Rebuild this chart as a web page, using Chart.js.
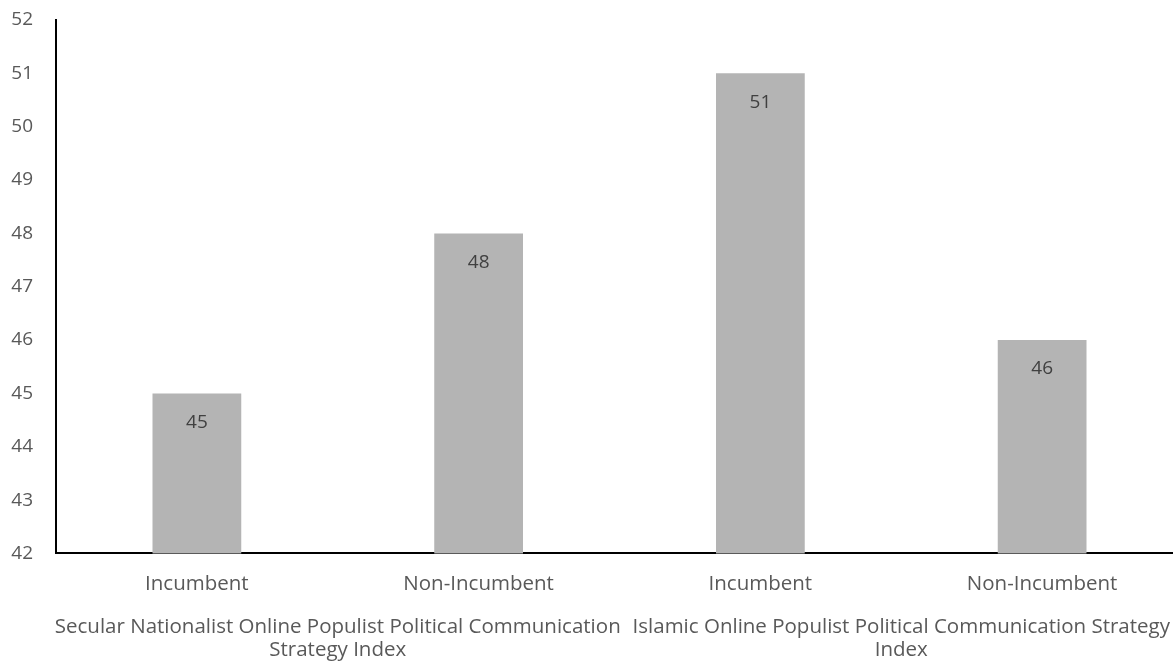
<!DOCTYPE html>
<html>
<head>
<meta charset="utf-8">
<script src="https://cdn.jsdelivr.net/npm/chart.js@4.4.1/dist/chart.umd.min.js"></script>
<style>
  html, body { margin: 0; padding: 0; background: #fff; overflow: hidden; }
  #wrap { width: 1183px; height: 669px; }
</style>
</head>
<body>
<div id="wrap"><canvas id="chart"></canvas></div>
<script>
const categories = ["Incumbent", "Non-Incumbent", "Incumbent", "Non-Incumbent"];
const groups = [
  ["Secular Nationalist Online Populist Political Communication", "Strategy Index"],
  ["Islamic Online Populist Political Communication Strategy", "Index"]
];
const values = [45, 48, 51, 46];
const yTicks = { min: 42, max: 52, step: 1 };

const textColor = "#595959";
const fontFamily = "'Open Sans', sans-serif";

// value labels sit just inside the top of each bar
const barValueLabels = {
  id: "barValueLabels",
  afterDatasetsDraw(chart) {
    const { ctx } = chart;
    const meta = chart.getDatasetMeta(0);
    ctx.save();
    ctx.font = "19px " + fontFamily;
    ctx.fillStyle = "#404040";
    ctx.textAlign = "center";
    ctx.textBaseline = "middle";
    meta.data.forEach((bar, i) => {
      ctx.fillText(String(values[i]), bar.x, bar.y + 29);
    });
    ctx.restore();
  }
};

// keep wide category labels from reserving side padding
function noSidePadding(scale) {
  scale.paddingLeft = 0;
  scale.paddingRight = 0;
}

new Chart(document.getElementById("chart"), {
  type: "bar",
  data: {
    labels: categories,
    datasets: [{
      data: values,
      backgroundColor: "#b4b4b4",
      categoryPercentage: 1,
      barPercentage: 0.315
    }]
  },
  options: {
    responsive: true,
    maintainAspectRatio: false,
    animation: false,
    layout: { padding: { top: 20, left: 0, right: 0, bottom: 5 } },
    plugins: {
      legend: { display: false },
      tooltip: { enabled: false }
    },
    scales: {
      x: {
        afterFit: noSidePadding,
        grid: { display: false, drawTicks: false },
        border: { color: "#000", width: 2 },
        ticks: {
          color: textColor,
          font: { family: fontFamily, size: 20.5 },
          padding: 18,
          maxRotation: 0,
          minRotation: 0,
          autoSkip: false
        }
      },
      x2: {
        type: "category",
        labels: groups,
        position: "bottom",
        offset: true,
        afterFit: noSidePadding,
        grid: { display: false, drawTicks: false },
        border: { display: false },
        ticks: {
          color: textColor,
          font: { family: fontFamily, size: 20.5, lineHeight: 1.12 },
          padding: 2,
          maxRotation: 0,
          minRotation: 0,
          autoSkip: false
        }
      },
      y: {
        min: yTicks.min,
        max: yTicks.max,
        afterFit(scale) {
          scale.width = 56;
          scale.paddingTop = 0;
        },
        grid: { display: false, drawTicks: false },
        border: { color: "#000", width: 2 },
        ticks: {
          stepSize: yTicks.step,
          color: textColor,
          font: { family: fontFamily, size: 19 },
          padding: 23
        }
      }
    }
  },
  plugins: [barValueLabels]
});
</script>
</body>
</html>
